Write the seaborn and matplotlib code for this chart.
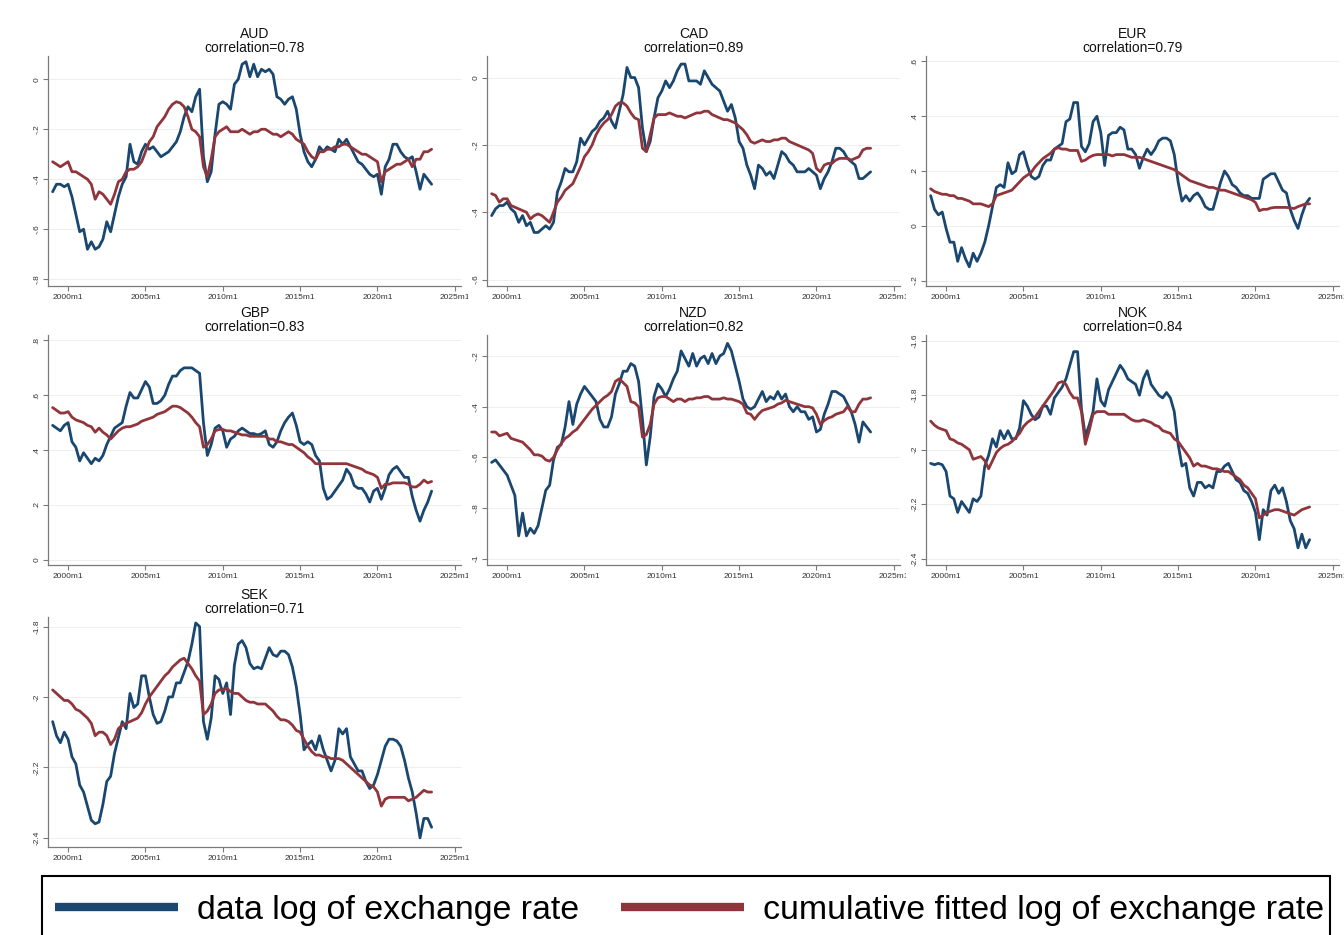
import numpy as np
import pandas as pd
import seaborn as sns
import matplotlib
matplotlib.use("Agg")
import matplotlib.pyplot as plt
from matplotlib.lines import Line2D
from matplotlib.patches import Rectangle
from matplotlib.ticker import FuncFormatter
from matplotlib.transforms import Bbox, TransformedBbox

# ------------------------------------------------------------------
# Data: quarterly readings, 1999q1 - 2023q3 (log exchange rates)
# ------------------------------------------------------------------
quarters = 1999 + 0.25 * np.arange(99)

aud_data = [-0.45, -0.42, -0.42, -0.43, -0.42, -0.47, -0.54, -0.61, -0.60, -0.68,
            -0.65, -0.68, -0.67, -0.64, -0.57, -0.61, -0.54, -0.47, -0.42, -0.39,
            -0.26, -0.33, -0.34, -0.29, -0.26, -0.28, -0.27, -0.29, -0.31, -0.30,
            -0.29, -0.27, -0.25, -0.21, -0.15, -0.11, -0.13, -0.07, -0.04, -0.31,
            -0.41, -0.37, -0.22, -0.10, -0.09, -0.10, -0.12, -0.02, 0.00, 0.06,
            0.07, 0.01, 0.06, 0.01, 0.04, 0.03, 0.04, 0.02, -0.07, -0.08,
            -0.10, -0.08, -0.07, -0.12, -0.22, -0.29, -0.33, -0.35, -0.32, -0.27,
            -0.29, -0.27, -0.28, -0.29, -0.24, -0.26, -0.24, -0.27, -0.30, -0.33,
            -0.34, -0.36, -0.38, -0.39, -0.38, -0.46, -0.35, -0.32, -0.26, -0.26,
            -0.29, -0.31, -0.32, -0.31, -0.37, -0.44, -0.38, -0.40, -0.42]
aud_fit = [-0.33, -0.34, -0.35, -0.34, -0.33, -0.37, -0.37, -0.38, -0.39, -0.40,
           -0.42, -0.48, -0.45, -0.46, -0.48, -0.50, -0.46, -0.41, -0.40, -0.37,
           -0.36, -0.36, -0.35, -0.33, -0.29, -0.25, -0.23, -0.19, -0.17, -0.15,
           -0.12, -0.10, -0.09, -0.095, -0.11, -0.15, -0.20, -0.21, -0.23, -0.35,
           -0.39, -0.32, -0.23, -0.21, -0.20, -0.19, -0.21, -0.21, -0.21, -0.20,
           -0.21, -0.22, -0.21, -0.21, -0.20, -0.20, -0.21, -0.22, -0.22, -0.23,
           -0.22, -0.21, -0.22, -0.24, -0.25, -0.26, -0.29, -0.31, -0.32, -0.29,
           -0.29, -0.28, -0.28, -0.27, -0.27, -0.26, -0.26, -0.27, -0.28, -0.29,
           -0.30, -0.30, -0.31, -0.32, -0.33, -0.41, -0.37, -0.36, -0.35, -0.34,
           -0.34, -0.33, -0.32, -0.35, -0.32, -0.32, -0.29, -0.29, -0.28]

cad_data = [-0.41, -0.39, -0.38, -0.38, -0.37, -0.39, -0.40, -0.43, -0.41, -0.44,
            -0.43, -0.46, -0.46, -0.45, -0.44, -0.45, -0.43, -0.34, -0.31, -0.27,
            -0.28, -0.28, -0.25, -0.18, -0.20, -0.18, -0.16, -0.15, -0.13, -0.12,
            -0.10, -0.13, -0.15, -0.10, -0.05, 0.03, 0.00, 0.00, -0.03, -0.15,
            -0.22, -0.19, -0.12, -0.06, -0.04, -0.01, -0.03, -0.01, 0.02, 0.04,
            0.04, -0.01, -0.01, -0.01, -0.02, 0.02, 0.00, -0.02, -0.03, -0.04,
            -0.07, -0.10, -0.08, -0.12, -0.19, -0.21, -0.26, -0.29, -0.33, -0.26,
            -0.27, -0.29, -0.28, -0.30, -0.26, -0.22, -0.23, -0.25, -0.26, -0.28,
            -0.28, -0.28, -0.27, -0.28, -0.29, -0.33, -0.30, -0.28, -0.25, -0.21,
            -0.21, -0.22, -0.24, -0.25, -0.26, -0.30, -0.30, -0.29, -0.28]
cad_fit = [-0.345, -0.35, -0.37, -0.36, -0.36, -0.38, -0.385, -0.39, -0.395, -0.40,
           -0.42, -0.41, -0.405, -0.41, -0.42, -0.43, -0.40, -0.37, -0.355, -0.335,
           -0.325, -0.315, -0.29, -0.265, -0.235, -0.22, -0.20, -0.17, -0.15, -0.135,
           -0.125, -0.11, -0.085, -0.075, -0.075, -0.085, -0.105, -0.12, -0.125, -0.21,
           -0.22, -0.17, -0.12, -0.11, -0.11, -0.11, -0.105, -0.11, -0.115, -0.115,
           -0.12, -0.115, -0.11, -0.105, -0.105, -0.10, -0.10, -0.11, -0.115, -0.12,
           -0.125, -0.125, -0.13, -0.135, -0.145, -0.155, -0.17, -0.19, -0.195, -0.19,
           -0.185, -0.19, -0.19, -0.185, -0.185, -0.18, -0.18, -0.19, -0.195, -0.20,
           -0.205, -0.21, -0.215, -0.225, -0.27, -0.28, -0.26, -0.255, -0.255, -0.245,
           -0.24, -0.24, -0.24, -0.245, -0.24, -0.235, -0.215, -0.21, -0.21]

eur_data = [0.11, 0.06, 0.04, 0.05, -0.01, -0.06, -0.06, -0.13, -0.08, -0.12,
            -0.15, -0.10, -0.13, -0.10, -0.06, 0.00, 0.07, 0.14, 0.15, 0.14,
            0.23, 0.19, 0.20, 0.26, 0.27, 0.22, 0.18, 0.17, 0.18, 0.22,
            0.24, 0.24, 0.28, 0.29, 0.30, 0.38, 0.39, 0.45, 0.45, 0.29,
            0.27, 0.30, 0.38, 0.40, 0.34, 0.22, 0.33, 0.34, 0.34, 0.36,
            0.35, 0.28, 0.28, 0.26, 0.21, 0.25, 0.28, 0.26, 0.28, 0.31,
            0.32, 0.32, 0.31, 0.26, 0.16, 0.09, 0.11, 0.09, 0.11, 0.12,
            0.10, 0.07, 0.06, 0.06, 0.11, 0.16, 0.20, 0.18, 0.15, 0.14,
            0.12, 0.11, 0.11, 0.10, 0.10, 0.10, 0.17, 0.18, 0.19, 0.19,
            0.16, 0.13, 0.12, 0.06, 0.02, -0.01, 0.04, 0.08, 0.10]
eur_fit = [0.135, 0.125, 0.12, 0.115, 0.115, 0.11, 0.11, 0.10, 0.10, 0.095,
           0.09, 0.08, 0.08, 0.08, 0.075, 0.07, 0.08, 0.11, 0.115, 0.12,
           0.125, 0.13, 0.145, 0.16, 0.175, 0.185, 0.195, 0.215, 0.23, 0.245,
           0.255, 0.265, 0.28, 0.285, 0.28, 0.28, 0.275, 0.275, 0.275, 0.235,
           0.24, 0.25, 0.257, 0.26, 0.26, 0.26, 0.26, 0.255, 0.26, 0.26,
           0.26, 0.255, 0.25, 0.25, 0.25, 0.245, 0.24, 0.235, 0.23, 0.225,
           0.22, 0.215, 0.21, 0.205, 0.195, 0.185, 0.175, 0.165, 0.16, 0.155,
           0.15, 0.145, 0.14, 0.14, 0.135, 0.13, 0.13, 0.125, 0.12, 0.115,
           0.11, 0.105, 0.10, 0.095, 0.085, 0.055, 0.06, 0.06, 0.065, 0.067,
           0.067, 0.067, 0.067, 0.065, 0.063, 0.07, 0.075, 0.08, 0.08]

gbp_data = [0.49, 0.48, 0.47, 0.49, 0.50, 0.43, 0.41, 0.36, 0.39, 0.37,
            0.35, 0.37, 0.36, 0.38, 0.42, 0.45, 0.48, 0.49, 0.50, 0.56,
            0.61, 0.59, 0.59, 0.62, 0.65, 0.63, 0.57, 0.57, 0.58, 0.60,
            0.64, 0.67, 0.67, 0.69, 0.70, 0.70, 0.70, 0.69, 0.68, 0.50,
            0.38, 0.42, 0.48, 0.49, 0.47, 0.41, 0.44, 0.45, 0.47, 0.48,
            0.47, 0.46, 0.46, 0.455, 0.46, 0.47, 0.42, 0.41, 0.43, 0.47,
            0.50, 0.52, 0.535, 0.49, 0.43, 0.42, 0.43, 0.42, 0.38, 0.36,
            0.26, 0.22, 0.23, 0.25, 0.27, 0.29, 0.33, 0.31, 0.27, 0.26,
            0.26, 0.24, 0.21, 0.25, 0.26, 0.22, 0.26, 0.31, 0.33, 0.34,
            0.32, 0.30, 0.30, 0.23, 0.18, 0.14, 0.18, 0.21, 0.25]
gbp_fit = [0.555, 0.545, 0.535, 0.535, 0.54, 0.52, 0.51, 0.505, 0.50, 0.49,
           0.485, 0.465, 0.48, 0.465, 0.455, 0.44, 0.455, 0.47, 0.48, 0.485,
           0.485, 0.49, 0.495, 0.505, 0.51, 0.515, 0.52, 0.53, 0.535, 0.54,
           0.55, 0.56, 0.56, 0.555, 0.545, 0.535, 0.52, 0.50, 0.485, 0.41,
           0.42, 0.44, 0.47, 0.475, 0.475, 0.47, 0.47, 0.465, 0.46, 0.455,
           0.455, 0.45, 0.45, 0.45, 0.45, 0.45, 0.44, 0.44, 0.43, 0.43,
           0.425, 0.42, 0.42, 0.41, 0.40, 0.39, 0.375, 0.365, 0.35, 0.35,
           0.35, 0.35, 0.35, 0.35, 0.35, 0.35, 0.35, 0.345, 0.34, 0.335,
           0.33, 0.32, 0.315, 0.31, 0.30, 0.26, 0.275, 0.275, 0.28, 0.28,
           0.28, 0.28, 0.275, 0.265, 0.265, 0.275, 0.29, 0.28, 0.285]

nzd_data = [-0.62, -0.61, -0.63, -0.65, -0.67, -0.71, -0.75, -0.91, -0.82, -0.91,
            -0.88, -0.90, -0.87, -0.80, -0.73, -0.71, -0.61, -0.56, -0.55, -0.48,
            -0.38, -0.47, -0.39, -0.35, -0.32, -0.34, -0.36, -0.38, -0.45, -0.48,
            -0.48, -0.44, -0.35, -0.31, -0.26, -0.26, -0.23, -0.24, -0.30, -0.45,
            -0.63, -0.52, -0.36, -0.31, -0.33, -0.36, -0.33, -0.29, -0.26, -0.18,
            -0.21, -0.24, -0.19, -0.24, -0.21, -0.20, -0.23, -0.19, -0.23, -0.20,
            -0.19, -0.15, -0.18, -0.24, -0.30, -0.37, -0.40, -0.41, -0.40, -0.37,
            -0.34, -0.38, -0.36, -0.37, -0.34, -0.37, -0.35, -0.40, -0.42, -0.40,
            -0.42, -0.42, -0.45, -0.44, -0.50, -0.49, -0.43, -0.39, -0.34, -0.34,
            -0.35, -0.36, -0.39, -0.42, -0.47, -0.54, -0.46, -0.48, -0.50]
nzd_fit = [-0.50, -0.50, -0.515, -0.51, -0.505, -0.525, -0.53, -0.535, -0.54, -0.555,
           -0.57, -0.59, -0.59, -0.595, -0.61, -0.615, -0.60, -0.57, -0.545, -0.525,
           -0.515, -0.50, -0.49, -0.47, -0.45, -0.43, -0.41, -0.395, -0.38, -0.365,
           -0.355, -0.34, -0.30, -0.29, -0.305, -0.32, -0.38, -0.385, -0.40, -0.52,
           -0.51, -0.47, -0.39, -0.365, -0.36, -0.36, -0.37, -0.38, -0.37, -0.37,
           -0.38, -0.37, -0.37, -0.365, -0.365, -0.36, -0.36, -0.37, -0.37, -0.37,
           -0.365, -0.37, -0.37, -0.375, -0.38, -0.39, -0.425, -0.43, -0.45, -0.43,
           -0.415, -0.41, -0.405, -0.40, -0.39, -0.385, -0.375, -0.38, -0.385, -0.39,
           -0.395, -0.40, -0.40, -0.405, -0.43, -0.47, -0.455, -0.445, -0.44, -0.43,
           -0.425, -0.42, -0.40, -0.42, -0.42, -0.39, -0.37, -0.37, -0.365]

nok_data = [-2.05, -2.055, -2.05, -2.055, -2.08, -2.17, -2.18, -2.23, -2.19, -2.21,
            -2.23, -2.18, -2.19, -2.17, -2.06, -2.02, -1.96, -1.99, -1.93, -1.96,
            -1.93, -1.96, -1.96, -1.92, -1.82, -1.84, -1.87, -1.89, -1.88, -1.84,
            -1.84, -1.87, -1.81, -1.79, -1.77, -1.74, -1.69, -1.64, -1.64, -1.85,
            -1.95, -1.91, -1.86, -1.74, -1.82, -1.84, -1.78, -1.75, -1.72, -1.69,
            -1.71, -1.74, -1.75, -1.76, -1.80, -1.74, -1.71, -1.76, -1.78, -1.80,
            -1.81, -1.79, -1.81, -1.86, -1.98, -2.06, -2.05, -2.14, -2.17, -2.12,
            -2.12, -2.14, -2.13, -2.14, -2.08, -2.08, -2.06, -2.05, -2.08, -2.11,
            -2.12, -2.15, -2.16, -2.19, -2.23, -2.33, -2.22, -2.24, -2.15, -2.13,
            -2.16, -2.14, -2.19, -2.26, -2.29, -2.36, -2.31, -2.36, -2.33]
nok_fit = [-1.895, -1.91, -1.92, -1.925, -1.93, -1.96, -1.965, -1.975, -1.98, -1.99,
           -2.00, -2.035, -2.03, -2.025, -2.04, -2.07, -2.04, -2.01, -1.995, -1.985,
           -1.98, -1.97, -1.955, -1.94, -1.915, -1.90, -1.89, -1.88, -1.86, -1.84,
           -1.82, -1.80, -1.78, -1.755, -1.75, -1.76, -1.79, -1.81, -1.81, -1.86,
           -1.98, -1.93, -1.87, -1.86, -1.86, -1.86, -1.87, -1.87, -1.87, -1.87,
           -1.87, -1.88, -1.89, -1.895, -1.895, -1.89, -1.895, -1.90, -1.91, -1.915,
           -1.93, -1.935, -1.94, -1.96, -1.97, -1.99, -2.01, -2.03, -2.06, -2.05,
           -2.06, -2.06, -2.065, -2.07, -2.07, -2.075, -2.08, -2.08, -2.09, -2.10,
           -2.11, -2.13, -2.14, -2.16, -2.18, -2.25, -2.24, -2.23, -2.225, -2.22,
           -2.22, -2.225, -2.23, -2.235, -2.24, -2.23, -2.22, -2.215, -2.21]

sek_data = [-2.07, -2.11, -2.13, -2.10, -2.12, -2.17, -2.19, -2.25, -2.27, -2.31,
            -2.35, -2.36, -2.355, -2.305, -2.24, -2.225, -2.16, -2.115, -2.07, -2.09,
            -1.99, -2.03, -2.02, -1.94, -1.94, -2.00, -2.05, -2.075, -2.07, -2.04,
            -2.00, -2.00, -1.96, -1.96, -1.93, -1.90, -1.85, -1.79, -1.80, -2.07,
            -2.12, -2.06, -1.94, -1.95, -1.99, -1.96, -2.05, -1.91, -1.85, -1.84,
            -1.86, -1.905, -1.92, -1.915, -1.92, -1.89, -1.86, -1.88, -1.885, -1.87,
            -1.87, -1.88, -1.915, -1.97, -2.05, -2.15, -2.135, -2.125, -2.15, -2.11,
            -2.15, -2.18, -2.21, -2.18, -2.09, -2.105, -2.09, -2.17, -2.19, -2.21,
            -2.21, -2.24, -2.26, -2.25, -2.22, -2.18, -2.14, -2.12, -2.12, -2.125,
            -2.14, -2.18, -2.23, -2.27, -2.33, -2.40, -2.345, -2.345, -2.37]
sek_fit = [-1.98, -1.99, -2.00, -2.01, -2.01, -2.02, -2.035, -2.04, -2.05, -2.06,
           -2.075, -2.11, -2.10, -2.10, -2.11, -2.135, -2.12, -2.09, -2.08, -2.075,
           -2.07, -2.065, -2.06, -2.045, -2.02, -2.00, -1.985, -1.97, -1.955, -1.94,
           -1.93, -1.915, -1.905, -1.895, -1.89, -1.905, -1.92, -1.94, -1.955, -2.05,
           -2.04, -2.02, -1.99, -1.98, -1.98, -1.975, -1.985, -1.99, -1.99, -2.00,
           -2.01, -2.015, -2.015, -2.02, -2.02, -2.02, -2.03, -2.04, -2.055, -2.065,
           -2.065, -2.07, -2.08, -2.095, -2.10, -2.12, -2.14, -2.155, -2.165, -2.165,
           -2.17, -2.17, -2.175, -2.175, -2.175, -2.18, -2.19, -2.20, -2.21, -2.22,
           -2.23, -2.24, -2.25, -2.255, -2.27, -2.31, -2.29, -2.285, -2.285, -2.285,
           -2.285, -2.285, -2.295, -2.29, -2.285, -2.275, -2.265, -2.27, -2.27]

currencies = ["AUD", "CAD", "EUR", "GBP", "NZD", "NOK", "SEK"]
correlations = [0.78, 0.89, 0.79, 0.83, 0.82, 0.84, 0.71]
data_series = [aud_data, cad_data, eur_data, gbp_data, nzd_data, nok_data, sek_data]
fit_series = [aud_fit, cad_fit, eur_fit, gbp_fit, nzd_fit, nok_fit, sek_fit]

y_ticks = [[-0.8, -0.6, -0.4, -0.2, 0.0],
           [-0.6, -0.4, -0.2, 0.0],
           [-0.2, 0.0, 0.2, 0.4, 0.6],
           [0.0, 0.2, 0.4, 0.6, 0.8],
           [-1.0, -0.8, -0.6, -0.4, -0.2],
           [-2.4, -2.2, -2.0, -1.8, -1.6],
           [-2.4, -2.2, -2.0, -1.8]]
y_limits = [(-0.827, 0.093), (-0.619, 0.064), (-0.22, 0.62), (-0.02, 0.82),
            (-1.025, -0.117), (-2.423, -1.579), (-2.426, -1.773)]
x_ticks = [2000, 2005, 2010, 2015, 2020, 2025]

lab_data = "data log of exchange rate"
lab_fit = "cumulative fitted log of exchange rate"
colores = {lab_data: "#1a476f", lab_fit: "#90353b"}

# ------------------------------------------------------------------
# Figure
# ------------------------------------------------------------------
sns.set_style("white")
plt.rcParams["font.family"] = ["Liberation Sans", "DejaVu Sans"]

W, H = 1344, 935
fig = plt.figure(figsize=(W / 100, H / 100), dpi=100)

col_left = [48, 487, 926]
row_top = [56, 335, 617]
ax_w, ax_h = 413, 230
clip_right = [468, 906, W]


def stata_fmt(v, pos):
    s = f"{round(v, 6):g}"
    if s.startswith("0."):
        s = s[1:]
    elif s.startswith("-0."):
        s = "-" + s[2:]
    return s


for k, cur in enumerate(currencies):
    r, c = divmod(k, 3)
    left = col_left[c]
    top = row_top[r]
    ax = fig.add_axes([left / W, 1 - (top + ax_h) / H, ax_w / W, ax_h / H])

    df = pd.DataFrame({
        "t": np.concatenate([quarters, quarters]),
        "valor": np.concatenate([data_series[k], fit_series[k]]),
        "serie": [lab_data] * len(quarters) + [lab_fit] * len(quarters),
    })
    sns.lineplot(data=df, x="t", y="valor", hue="serie", palette=colores,
                 hue_order=[lab_data, lab_fit], estimator=None,
                 linewidth=2.0, legend=False, ax=ax)

    ax.set_xlim(1998.7, 2025.4)
    ax.set_ylim(*y_limits[k])
    ax.set_xticks(x_ticks)
    ax.set_xticklabels([f"{y}m1" for y in x_ticks])
    ax.set_yticks(y_ticks[k])
    ax.yaxis.set_major_formatter(FuncFormatter(stata_fmt))
    ax.set_xlabel("")
    ax.set_ylabel("")

    for side in ["top", "right"]:
        ax.spines[side].set_visible(False)
    for side in ["left", "bottom"]:
        ax.spines[side].set_color("#7a7a7a")
        ax.spines[side].set_linewidth(0.9)

    ax.yaxis.grid(True, color="#eeeeee", linewidth=0.7)
    ax.xaxis.grid(False)
    ax.tick_params(axis="both", bottom=True, left=True, length=3.5, width=0.8,
                   color="#7a7a7a", labelsize=6, labelcolor="#333333", pad=2)
    ax.tick_params(axis="y", labelrotation=90)
    for lab in ax.get_yticklabels():
        lab.set_verticalalignment("center")

    ax.set_title(f"{cur}\ncorrelation={correlations[k]:.2f}", fontsize=10,
                 pad=3, linespacing=1.0, color="#111111")

    # in the combined graph the tick labels are cut at the panel border
    if r < 2:
        box = TransformedBbox(Bbox.from_extents(0, 0, clip_right[c] / W, 1),
                              fig.transFigure)
        for lab in ax.get_xticklabels():
            lab.set_clip_box(box)
            lab.set_clip_on(True)

# legend: keys + text, box runs past the bottom edge as in the original
handles = [Line2D([], [], color=colores[lab_data], linewidth=6, solid_capstyle="butt"),
           Line2D([], [], color=colores[lab_fit], linewidth=6, solid_capstyle="butt")]
leg = fig.legend(handles, [lab_data, lab_fit], loc="center left",
                 bbox_to_anchor=(42 / W, 1 - 910 / H), ncol=2, fontsize=24.4,
                 frameon=False, borderpad=0.38, handlelength=3.63,
                 handletextpad=0.56, columnspacing=1.24, borderaxespad=0,
                 labelcolor="black")
fig.patches.append(Rectangle((42 / W, -0.05), (1330 - 42) / W, 0.05 + 1 - 876 / H,
                             transform=fig.transFigure, fill=False,
                             edgecolor="black", linewidth=1.5))

fig.savefig("out.png", dpi=100)
